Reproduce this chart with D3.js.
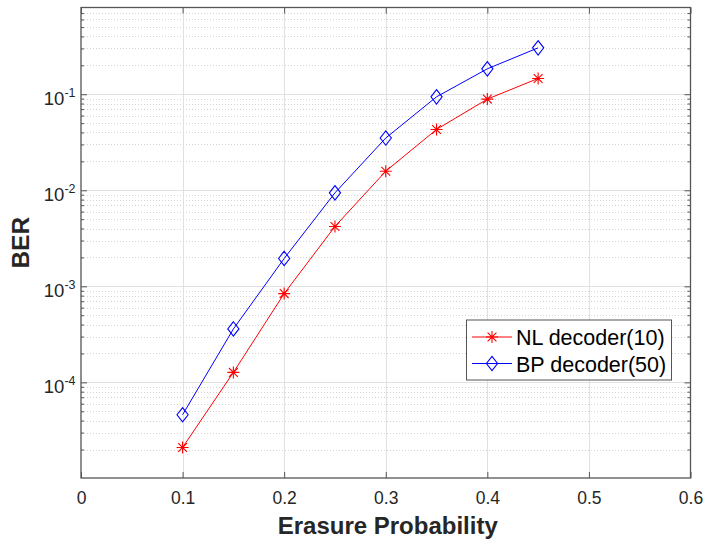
<!DOCTYPE html>
<html>
<head>
<meta charset="utf-8">
<script src="https://cdn.jsdelivr.net/npm/d3@7"></script>
<style>
  html, body { margin: 0; padding: 0; background: #ffffff; }
  svg { display: block; font-family: "Liberation Sans", Arial, Helvetica, sans-serif; }
</style>
</head>
<body>
<svg id="chart" width="707" height="546"></svg>
<script>
// ---- data ----
const erasureProb = [0.10, 0.15, 0.20, 0.25, 0.30, 0.35, 0.40, 0.45];
const nlDecoderBER = [2.1e-5, 1.27e-4, 8.4e-4, 4.2e-3, 1.58e-2, 4.3e-2, 8.9e-2, 0.146];
const bpDecoderBER = [4.6e-5, 3.6e-4, 1.95e-3, 9.4e-3, 3.5e-2, 9.4e-2, 0.184, 0.304];
const seriesNames = ["NL decoder(10)", "BP decoder(50)"];
const xTickValues = [0, 0.1, 0.2, 0.3, 0.4, 0.5, 0.6];
const xTickLabels = ["0", "0.1", "0.2", "0.3", "0.4", "0.5", "0.6"];
const yTickValues = [1e-4, 1e-3, 1e-2, 1e-1];
const yTickExponents = ["-4", "-3", "-2", "-1"];
const xLabel = "Erasure Probability";
const yLabel = "BER";
const xDomain = [0, 0.6];
const yDomain = [1.01e-5, 0.8];

// ---- layout ----
const L = 81, R = 690.5, T = 7.5, B = 478;
const svg = d3.select("#chart");
const x = d3.scaleLinear().domain(xDomain).range([L, R]);
const y = d3.scaleLog().domain(yDomain).range([B, T]);

// minor y values
const yMinor = [];
for (let e = -6; e <= 0; e++) {
  for (let m = 2; m <= 9; m++) {
    const v = m * Math.pow(10, e);
    if (v > yDomain[0] && v < yDomain[1]) yMinor.push(v);
  }
}
const yMajorGrid = [];
for (let e = -6; e <= 0; e++) {
  const v = Math.pow(10, e);
  if (v >= yDomain[0] && v <= yDomain[1]) yMajorGrid.push(v);
}

const axisColor = "#262626";
const gridG = svg.append("g");
// minor grid (dotted)
gridG.selectAll("line.ymin").data(yMinor).join("line")
  .attr("x1", L).attr("x2", R)
  .attr("y1", d => Math.round(y(d)) + 0.5).attr("y2", d => Math.round(y(d)) + 0.5)
  .attr("stroke", "#d4d4d4").attr("stroke-width", 1).attr("stroke-dasharray", "1,2");
// major grid
gridG.selectAll("line.ymaj").data(yMajorGrid).join("line")
  .attr("x1", L).attr("x2", R)
  .attr("y1", d => Math.round(y(d)) + 0.5).attr("y2", d => Math.round(y(d)) + 0.5)
  .attr("stroke", "#e0e0e0").attr("stroke-width", 1);
gridG.selectAll("line.xmaj").data(xTickValues.slice(1, -1)).join("line")
  .attr("y1", T).attr("y2", B)
  .attr("x1", d => Math.round(x(d)) + 0.5).attr("x2", d => Math.round(x(d)) + 0.5)
  .attr("stroke", "#e0e0e0").attr("stroke-width", 1);

// ---- axes ----
function styleAxis(g) {
  g.select(".domain").remove();
  g.selectAll(".tick line").attr("stroke", "#555").attr("stroke-width", 1);
}
const xAxisB = d3.axisBottom(x).tickValues(xTickValues)
  .tickFormat((d, i) => xTickLabels[i]).tickSizeInner(-6).tickSizeOuter(0).tickPadding(13.2);
const gxB = svg.append("g").attr("transform", `translate(0,${B})`).call(xAxisB);
styleAxis(gxB);
gxB.selectAll(".tick text").attr("fill", axisColor)
  .style("font-size", "17.5px");

const xAxisT = d3.axisTop(x).tickValues(xTickValues).tickFormat("").tickSizeInner(-6).tickSizeOuter(0);
const gxT = svg.append("g").attr("transform", `translate(0,${T})`).call(xAxisT);
styleAxis(gxT);

const yAxisL = d3.axisLeft(y).tickValues(yTickValues).tickFormat("").tickSizeInner(-6).tickSizeOuter(0);
const gyL = svg.append("g").attr("transform", `translate(${L},0)`).call(yAxisL);
styleAxis(gyL);
const yMinorL = d3.axisLeft(y).tickValues(yMinor).tickFormat("").tickSizeInner(-3).tickSizeOuter(0);
const gyLm = svg.append("g").attr("transform", `translate(${L},0)`).call(yMinorL);
styleAxis(gyLm);
const yAxisR = d3.axisRight(y).tickValues(yTickValues).tickFormat("").tickSizeInner(-6).tickSizeOuter(0);
const gyR = svg.append("g").attr("transform", `translate(${R},0)`).call(yAxisR);
styleAxis(gyR);
const yMinorR = d3.axisRight(y).tickValues(yMinor).tickFormat("").tickSizeInner(-3).tickSizeOuter(0);
const gyRm = svg.append("g").attr("transform", `translate(${R},0)`).call(yMinorR);
styleAxis(gyRm);

// y tick labels with superscript
const yLab = svg.append("g");
yTickValues.forEach((v, i) => {
  const t = yLab.append("text")
    .attr("x", 75.5).attr("y", y(v) + 10.8)
    .attr("text-anchor", "end").attr("fill", axisColor)
    .style("font-size", "18.5px");
  t.append("tspan").text("10");
  t.append("tspan").attr("dy", -8.4).style("font-size", "12.5px").text(yTickExponents[i]);
});

// box
svg.append("rect")
  .attr("x", L).attr("y", T).attr("width", R - L).attr("height", B - T)
  .attr("fill", "none").attr("stroke", "#555").attr("stroke-width", 1.3);

// axis titles
svg.append("text")
  .attr("x", (L + R) / 2 + 2).attr("y", 534)
  .attr("text-anchor", "middle").attr("fill", axisColor)
  .style("font-size", "24px").style("font-weight", "bold")
  .text(xLabel);
svg.append("text")
  .attr("transform", `translate(29,${(T + B) / 2}) rotate(-90)`)
  .attr("text-anchor", "middle").attr("fill", axisColor)
  .style("font-size", "24.5px").style("font-weight", "bold")
  .text(yLabel);

// ---- series ----
const colors = ["#ff0000", "#0000ff"];
const line = d3.line().x(d => x(d[0])).y(d => y(d[1]));
const seriesData = [
  erasureProb.map((p, i) => [p, nlDecoderBER[i]]),
  erasureProb.map((p, i) => [p, bpDecoderBER[i]])
];

function asterisk(g, cx, cy, color) {
  const r = 6, d = 4.4;
  const p = `M${cx - r},${cy}L${cx + r},${cy}M${cx},${cy - r}L${cx},${cy + r}` +
            `M${cx - d},${cy - d}L${cx + d},${cy + d}M${cx - d},${cy + d}L${cx + d},${cy - d}`;
  g.append("path").attr("d", p).attr("stroke", color).attr("stroke-width", 1.1).attr("fill", "none");
}
function diamond(g, cx, cy, color) {
  const w = 5.6, h = 7.2;
  g.append("path").attr("d", `M${cx},${cy - h}L${cx + w},${cy}L${cx},${cy + h}L${cx - w},${cy}Z`)
    .attr("stroke", color).attr("stroke-width", 1.1).attr("fill", "none");
}
const markers = [asterisk, diamond];

const plotG = svg.append("g");
seriesData.forEach((data, si) => {
  plotG.append("path").datum(data).attr("d", line)
    .attr("fill", "none").attr("stroke", colors[si]).attr("stroke-width", 1);
  data.forEach(d => markers[si](plotG, x(d[0]), y(d[1]), colors[si]));
});

// ---- legend ----
const lg = svg.append("g");
lg.append("rect").attr("x", 466.5).attr("y", 320).attr("width", 205).attr("height", 60)
  .attr("fill", "#fff").attr("stroke", "#555").attr("stroke-width", 1);
const rowY = [337, 363.5];
seriesNames.forEach((name, i) => {
  lg.append("line").attr("x1", 472).attr("x2", 512).attr("y1", rowY[i]).attr("y2", rowY[i])
    .attr("stroke", colors[i]).attr("stroke-width", 1);
  markers[i](lg, 492, rowY[i], colors[i]);
  lg.append("text").attr("x", 516).attr("y", rowY[i] + 8)
    .attr("fill", "#000").style("font-size", "21.5px").text(name);
});
</script>
</body>
</html>
